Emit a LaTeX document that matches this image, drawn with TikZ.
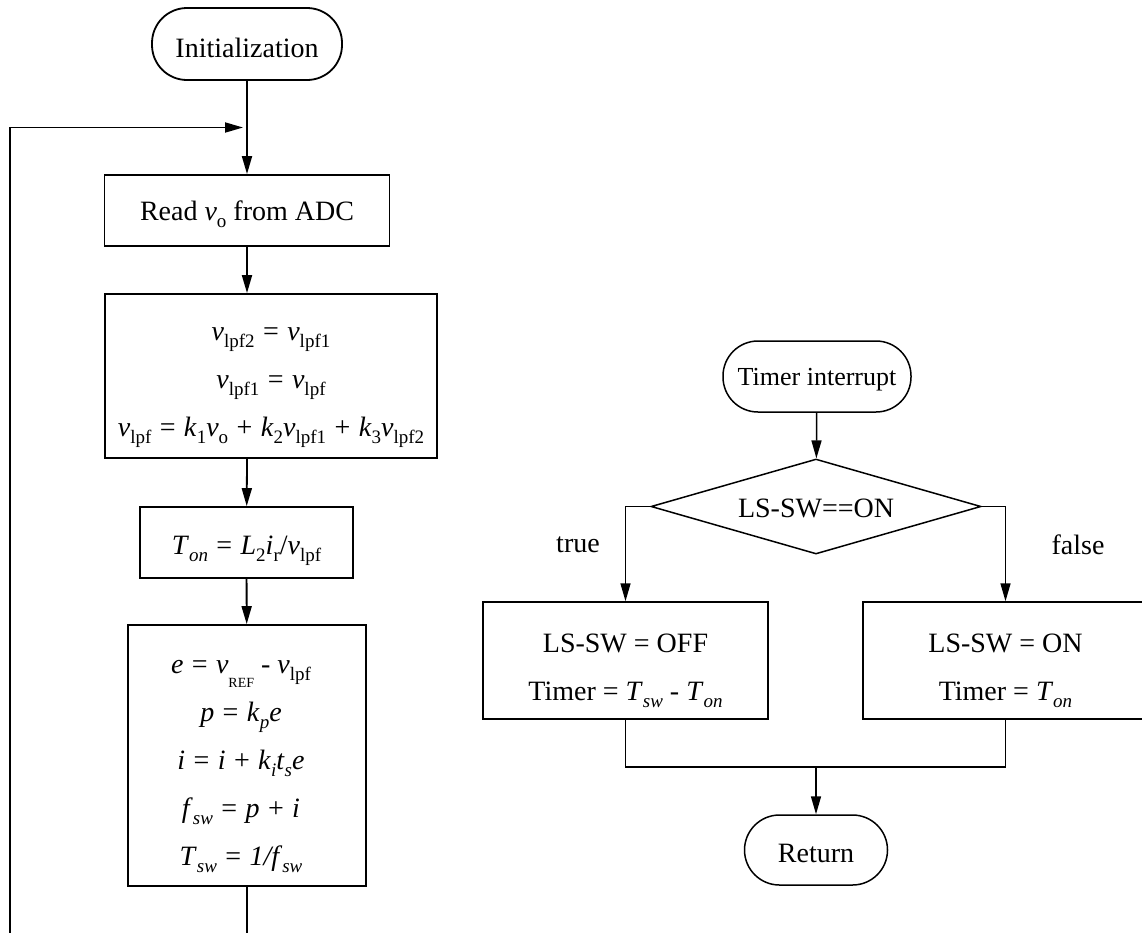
\documentclass[tikz,border=0pt]{standalone}
\usepackage{fontspec}
\setmainfont{Liberation Serif}
\usetikzlibrary{arrows.meta,shapes.geometric}
\newcommand\sub[1]{\raisebox{-0.25em}{\fontsize{19}{19}\selectfont #1}}
\newcommand\subsmall[1]{\raisebox{-0.5em}{\fontsize{14}{14}\selectfont #1}}
\newcommand\vlpf[1]{\textit{v}\sub{lpf#1}}
\newcommand\eqs{\hspace{0.3em}=\hspace{0.3em}}
\newcommand\pls{\hspace{0.3em}+\hspace{0.3em}}
\tikzset{
  base/.style={draw, line width=#1, inner sep=0pt},
  term/.style={base=#1, rectangle, rounded corners=35pt},
  proc/.style={base=#1, rectangle},
  dec/.style={base=#1, diamond, aspect=3.47},
  txt/.style={inner sep=0pt, align=center, font=\fontsize{28}{48}\selectfont},
  lbl/.style={inner sep=0pt, font=\fontsize{28}{34}\selectfont},
  arr/.style={line width=#1, -{Triangle[length=18pt,width=10pt]}},
  ln/.style={line width=#1},
}
\begin{document}
\begin{tikzpicture}[x=1pt,y=-1pt]
\useasboundingbox (0,0) rectangle (1142,932);
% ---------- left flow ----------
\node[term=1.8pt, minimum width=190pt, minimum height=72pt] (init) at (247,44) {};
\node[txt] (init-t) at ([yshift=-4pt]init.center) {Initialization};
\node[proc=1.8pt, minimum width=285pt, minimum height=71pt] (read) at (247,210.5) {};
\node[txt] (read-t) at ([yshift=-4pt]read.center) {Read \textit{v}\sub{o} from ADC};
\node[proc=1.8pt, minimum width=332pt, minimum height=164pt] (lpf) at (271,376) {};
\node[txt] (lpf-t) at ([yshift=-12pt]lpf.center)
  {\vlpf{2}\eqs\vlpf{1}\\ \vlpf{1}\eqs\vlpf{}\\
   \vlpf{}\eqs\textit{k}\sub{1}\textit{v}\sub{o}\pls\textit{k}\sub{2}\vlpf{1}\pls\textit{k}\sub{3}\vlpf{2}};
\node[proc=1.8pt, minimum width=213pt, minimum height=71pt] (ton) at (246.5,542.5) {};
\node[txt] (ton-t) at ([yshift=-8pt]ton.center)
  {\textit{T}\sub{\textit{on}}\eqs\textit{L}\sub{2}\textit{i}\sub{r}/\vlpf{}};
\node[proc=1.8pt, minimum width=238pt, minimum height=261pt] (pi) at (247,755.5) {};
\node[txt] (pi-t) at ([xshift=-6pt,yshift=-11pt]pi.center)
  {\textit{e}\eqs\textit{v}\subsmall{REF} - \vlpf{}\\
   \textit{p}\eqs\textit{k}\sub{\textit{p}}\textit{e}\\
   \textit{i}\eqs\textit{i}\pls\textit{k}\sub{\textit{i}}\textit{t}\sub{\textit{s}}\textit{e}\\
   \textit{f}\sub{\textit{sw}}\eqs\textit{p}\pls\textit{i}\\
   \textit{T}\sub{\textit{sw}}\eqs\textit{1/f}\sub{\textit{sw}}};
\coordinate (lj) at (247,127.5);
\coordinate (lb) at (247,960);
\coordinate (ll) at (10,960);
\coordinate (lt) at (10,127.5);
\draw[ln=1.8pt] (init) -- (lj);
\draw[arr=1.8pt] (lj) -- (read);
\draw[arr=1.8pt] (read) -- (read.south |- lpf.north);
\draw[arr=1.8pt] (read.south |- lpf.south) -- (ton);
\draw[arr=1.8pt] (ton) -- (pi);
\draw[arr=1.8pt, shorten >=4pt] (pi.south) -- (lb) -- (ll) -- (lt) -- (lj);
% ---------- right flow ----------
\node[term=1.5pt, minimum width=188pt, minimum height=71pt] (timer) at (817,376.5) {};
\node[txt, font=\fontsize{26}{30}\selectfont] (timer-t) at ([yshift=-3pt]timer.center) {Timer interrupt};
\node[dec=1.5pt, minimum width=330pt, minimum height=95pt] (dia) at (816,506.5) {};
\node[txt] (dia-t) at ([yshift=-2pt]dia.center) {LS-SW==ON};
\node[proc=1.5pt, minimum width=285pt, minimum height=117pt] (off) at (625.5,660.5) {};
\node[txt] (off-t) at ([yshift=-10pt]off.center)
  {LS-SW = OFF\\ Timer = \textit{T}\sub{\textit{sw}} - \textit{T}\sub{\textit{on}}};
\node[proc=1.5pt, minimum width=285pt, minimum height=117pt] (on) at (1005.5,660.5) {};
\node[txt] (on-t) at ([yshift=-10pt]on.center)
  {LS-SW = ON\\ Timer = \textit{T}\sub{\textit{on}}};
\node[term=1.5pt, minimum width=143pt, minimum height=70pt] (ret) at (816,850) {};
\node[txt] (ret-t) at ([yshift=-3pt]ret.center) {Return};
\node[lbl] (true) at (578,545) {true};
\node[lbl] (false) at (1078,545) {false};
\coordinate (jn) at (816,767);
\draw[arr=1.5pt] (timer) -- (dia);
\draw[arr=1.5pt] (dia.west) -| (off.north);
\draw[arr=1.5pt] (dia.east) -| (on.north);
\draw[ln=1.5pt] (off.south) |- (jn);
\draw[ln=1.5pt] (on.south) |- (jn);
\draw[arr=1.5pt] (jn) -- (ret);
\end{tikzpicture}
\end{document}
